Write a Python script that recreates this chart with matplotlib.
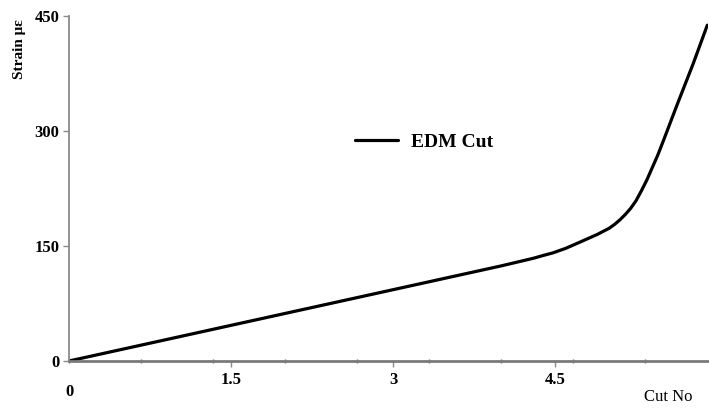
import matplotlib
matplotlib.use("Agg")
import matplotlib.pyplot as plt
from matplotlib.ticker import MultipleLocator

# Strain measured against cut number for the EDM cut
cut_no = [0.0, 1.0, 2.0, 3.0, 4.0, 4.18, 4.3, 4.4, 4.48, 4.6, 4.73, 4.89,
          5.0, 5.05, 5.1, 5.15, 5.2, 5.25, 5.3, 5.35, 5.4, 5.45, 5.5, 5.63,
          5.78, 5.91]
strain = [0, 31, 62, 93, 124, 130, 134, 138, 141, 147, 155, 165,
          173, 178, 184, 191, 199, 209, 222, 236, 252, 268, 286, 334,
          388, 438]

x_ticks = [1.5, 3, 4.5]
x_tick_labels = ["1.5", "3", "4.5"]
y_ticks = [0, 150, 300, 450]
series_name = "EDM Cut"

plt.rcParams["font.family"] = ["Liberation Serif", "DejaVu Serif"]

fig = plt.figure(figsize=(7.09, 4.08), dpi=100)
ax = fig.add_axes([69 / 709, 47 / 408, 639 / 709, 345 / 408])

line, = ax.plot(cut_no, strain, color="black", lw=2.3, solid_capstyle="round",
                solid_joinstyle="round", label=series_name)

ax.set_xlim(0, 639 / 108)
ax.set_ylim(0, 450)

for side in ("top", "right"):
    ax.spines[side].set_visible(False)
ax.spines["left"].set_color("#8a8a8a")
ax.spines["left"].set_linewidth(1.3)
ax.spines["bottom"].set_color("#7a7a7a")
ax.spines["bottom"].set_linewidth(2.0)

ax.set_yticks(y_ticks)
ax.set_yticklabels([str(v) for v in y_ticks], fontweight="bold", fontsize=12)
ax.tick_params(axis="y", direction="out", length=4, width=1, color="#8a8a8a",
               pad=3)

ax.set_xticks(x_ticks)
ax.set_xticklabels(x_tick_labels, fontweight="bold", fontsize=12)
ax.tick_params(axis="x", direction="out", length=4, width=1, color="#8a8a8a",
               pad=4)
ax.xaxis.set_minor_locator(MultipleLocator(72 / 108))
ax.tick_params(axis="x", which="minor", direction="inout", length=3, width=1,
               color="#6a6a6a")

# origin label sits a little below the other category labels
ax.annotate("0", xy=(0, 0), xycoords="data", xytext=(0, -22),
            textcoords="offset points", ha="center", va="center",
            fontsize=12, fontweight="bold")

fig.text(20 / 709, 1 - 49 / 408, "Strain \u03bc\u03b5", rotation=90,
         ha="center", va="center", fontsize=11, fontweight="bold")
fig.text(668 / 709, 1 - 397 / 408, "Cut No", ha="center", va="center",
         fontsize=12)

ax.legend(handles=[line], loc="center", bbox_to_anchor=(424 / 709, 1 - 142 / 408),
          bbox_transform=fig.transFigure, frameon=False, handlelength=2.2,
          handletextpad=0.7, prop={"weight": "bold", "size": 14})

fig.savefig("out.png", dpi=100)
